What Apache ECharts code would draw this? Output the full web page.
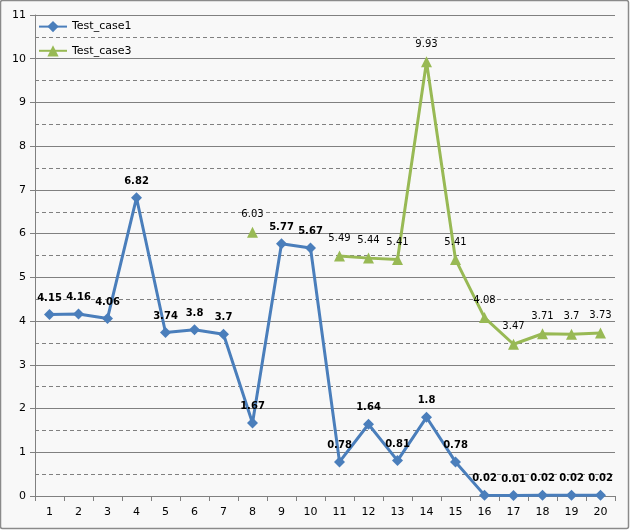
<!DOCTYPE html>
<html>
<head>
<meta charset="utf-8">
<script src="https://cdn.jsdelivr.net/npm/echarts@6/dist/echarts.min.js"></script>
<style>
html,body{margin:0;padding:0;background:#fff;}
#chart{width:630px;height:531px;}
</style>
</head>
<body>
<div id="chart"></div>
<script>
var categories = ['1','2','3','4','5','6','7','8','9','10','11','12','13','14','15','16','17','18','19','20'];
var seriesNames = ['Test_case1', 'Test_case3'];
var case1Values = [4.15, 4.16, 4.06, 6.82, 3.74, 3.8, 3.7, 1.67, 5.77, 5.67, 0.78, 1.64, 0.81, 1.8, 0.78, 0.02, 0.01, 0.02, 0.02, 0.02];
var case3Values = [null, null, null, null, null, null, null, 6.03, null, null, 5.49, 5.44, 5.41, 9.93, 5.41, 4.08, 3.47, 3.71, 3.7, 3.73];
var yMin = 0, yMax = 11, yStep = 1;

var FONT = 'DejaVu Sans';
var chart = echarts.init(document.getElementById('chart'));
chart.setOption({
  backgroundColor: '#ffffff',
  animation: false,
  graphic: [{
    type: 'rect', z: -10, silent: true,
    shape: { x: 0.5, y: 0.5, width: 628, height: 528, r: 2 },
    style: { fill: '#f8f8f8', stroke: '#8a8a8a', lineWidth: 1.5 }
  }],
  grid: { left: 35, right: 15, top: 15, bottom: 35 },
  legend: {
    orient: 'vertical', left: 38, top: 21, itemGap: 13, padding: 0,
    itemWidth: 28, itemHeight: 14,
    textStyle: { fontFamily: FONT, fontSize: 11, color: '#000' },
    data: seriesNames
  },
  xAxis: {
    type: 'category', data: categories, boundaryGap: true,
    axisLine: { lineStyle: { color: '#808080', width: 1 } },
    axisTick: { show: true, length: 5, inside: false, lineStyle: { color: '#808080' } },
    axisLabel: { fontFamily: FONT, fontSize: 11, color: '#000', margin: 11 }
  },
  yAxis: {
    type: 'value', min: yMin, max: yMax, interval: yStep,
    axisLine: { show: true, lineStyle: { color: '#808080', width: 1 } },
    axisTick: { show: true, length: 5, lineStyle: { color: '#808080' } },
    axisLabel: { fontFamily: FONT, fontSize: 11, color: '#000', margin: 9 },
    splitLine: { show: true, lineStyle: { color: '#808080', width: 1 } },
    minorTick: { show: false, splitNumber: 2 },
    minorSplitLine: { show: true, lineStyle: { color: '#808080', width: 1, type: [4, 3] } }
  },
  series: [{
    name: seriesNames[0], type: 'line', data: case1Values,
    symbol: 'diamond', symbolSize: 11, showAllSymbol: true,
    lineStyle: { color: '#4a7ebb', width: 3 },
    itemStyle: { color: '#4a7ebb' },
    label: { show: true, position: 'top', distance: 6, fontFamily: FONT, fontSize: 10, fontWeight: 'bold', color: '#000' },
    z: 3
  }, {
    name: seriesNames[1], type: 'line', data: case3Values,
    connectNulls: false,
    symbol: 'triangle', symbolSize: 11, showAllSymbol: true,
    lineStyle: { color: '#98b954', width: 3 },
    itemStyle: { color: '#98b954' },
    label: { show: true, position: 'top', distance: 7, fontFamily: FONT, fontSize: 10, color: '#000' },
    z: 2
  }]
});
</script>
</body>
</html>
